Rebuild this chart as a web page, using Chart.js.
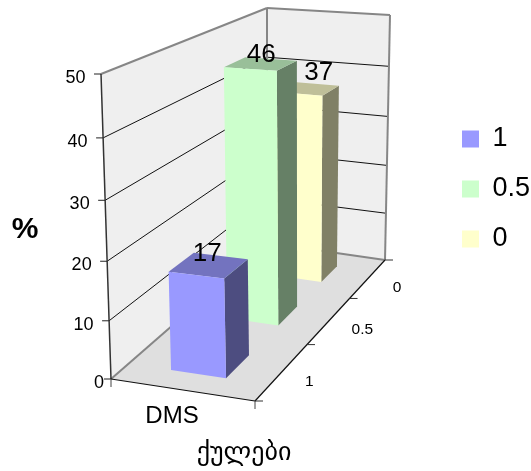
<!DOCTYPE html>
<html><head><meta charset="utf-8">
<style>html,body{margin:0;padding:0;background:#fff}canvas{display:block}</style>
<script src="https://cdn.jsdelivr.net/npm/chart.js@4/dist/chart.umd.js"></script>
</head><body><canvas id="c" width="531" height="471"></canvas>
<script>
const categories = ['DMS'];
const seriesNames = ['1', '0.5', '0'];
const values1 = [17];
const values05 = [46];
const values0 = [37];
const yTicks = [0, 10, 20, 30, 40, 50];
const xTitle = 'ქულები';
const yTitle = '%';

// box corners (screen) of the 3D plot
const A={x:111,y:379},B={x:101,y:74},C={x:267,y:8},D={x:267,y:243},E={x:390,y:15},F={x:385,y:260},G={x:255,y:401},H={x:250,y:84};
const font='"Liberation Sans", Arial, sans-serif';
const persp=(d,c)=>d/(d+(1-d)*c);
const lerp=(p,q,t)=>({x:p.x+(q.x-p.x)*t,y:p.y+(q.y-p.y)*t});
function P(u,vv,w){
  const wf=persp(w,0.75);
  const bot=lerp(lerp(A,G,u),lerp(D,F,u),wf);
  const top=lerp(lerp(B,H,u),lerp(C,E,u),wf);
  return lerp(bot,top,vv);
}
function poly(ctx,pts,fill,stroke,lw){
  ctx.beginPath();pts.forEach((p,i)=>i?ctx.lineTo(p.x,p.y):ctx.moveTo(p.x,p.y));ctx.closePath();
  if(fill){ctx.fillStyle=fill;ctx.fill();}
  if(stroke){ctx.strokeStyle=stroke;ctx.lineWidth=lw||1;ctx.stroke();}
}
function line(ctx,p,q,col,lw){ctx.beginPath();ctx.moveTo(p.x,p.y);ctx.lineTo(q.x,q.y);ctx.strokeStyle=col;ctx.lineWidth=lw;ctx.stroke();}
function hFrac(chart,val){const s=chart.scales.y;return (s.bottom-s.getPixelForValue(val))/(s.bottom-s.top);}

class PerspectiveScale extends Chart.LinearScale{
  static id='perspective';
  static defaults=Chart.LinearScale.defaults;
  getPixelForDecimal(d){return super.getPixelForDecimal(persp(d,1.06));}
  _computeLabelArea(){return undefined;}
  _computeLabelItems(area){
    const items=super._computeLabelItems(area);
    items.forEach((it,i)=>{
      const v=this.ticks[i].value;
      const pos=lerp(A,B,(this.bottom-this.getPixelForValue(v))/(this.bottom-this.top));
      it.options.textAlign='right';
      it.options.translation[0]= v===0 ? pos.x-7 : pos.x-15.5;
      it.options.translation[1]+=4;
    });
    return items;
  }
}
class Bar3DController extends Chart.BarController{
  static id='bar3d';
  static defaults=Chart.BarController.defaults;
  static overrides=Chart.BarController.overrides;
  draw(){
    const ctx=this.chart.ctx,k=this.index,ds=this.getDataset();
    const v=hFrac(this.chart,ds.data[0]);
    const u0=.30,u1=.69,wc=(k+.47)/3,w0=wc-.069,w1=wc+.069;
    ctx.save();
    poly(ctx,[P(u1,0,w0),P(u1,0,w1),P(u1,v,w1),P(u1,v,w0)],ds.sideColor);
    poly(ctx,[P(u0,v,w0),P(u1,v,w0),P(u1,v,w1),P(u0,v,w1)],ds.topColor);
    poly(ctx,[P(u0,0,w0),P(u1,0,w0),P(u1,v,w0),P(u0,v,w0)],ds.backgroundColor);
    ctx.restore();
  }
}
Chart.register(PerspectiveScale,Bar3DController);

const box3d={
  id:'box3d',
  afterLayout(chart){chart.legend.top=102.5;chart.legend.left=439;},
  beforeDatasetsDraw(chart){
    const ctx=chart.ctx;ctx.save();ctx.lineCap='butt';
    poly(ctx,[A,B,C,D],'#efefef');
    poly(ctx,[D,C,E,F],'#efefef');
    poly(ctx,[A,D,F,G],'#dfdfdf');
    yTicks.forEach(t=>{
      if(t===0||t===50)return;
      const v=hFrac(chart,t);
      const a=P(0,v,0),b=P(0,v,1),c=P(1,v,1);
      line(ctx,a,b,'#111',1);line(ctx,b,c,'#111',1);
    });
    line(ctx,B,C,'#868686',2);line(ctx,C,E,'#868686',2);line(ctx,C,D,'#868686',2);line(ctx,E,F,'#868686',2);
    line(ctx,A,D,'#868686',2);line(ctx,D,F,'#868686',2);
    line(ctx,A,B,'#333',1.5);line(ctx,A,G,'#111',1.2);line(ctx,G,F,'#111',1.2);
    yTicks.forEach(t=>{
      const v=hFrac(chart,t);const a=P(0,v,0);
      line(ctx,{x:a.x-7,y:a.y},a,'#222',1);
    });
    line(ctx,A,{x:A.x,y:A.y+8},'#444',1);line(ctx,G,{x:G.x,y:G.y+8},'#444',1);
    [0,1,2,3].forEach(i=>{const p=P(1,0,i/3);line(ctx,p,{x:p.x+8,y:p.y},'#333',1);});
    ctx.restore();
  },
  afterDatasetsDraw(chart){
    const ctx=chart.ctx;ctx.save();ctx.fillStyle='#000';ctx.textAlign='center';ctx.textBaseline='middle';
    chart.data.datasets.forEach((ds,k)=>{
      const v=hFrac(chart,ds.data[0]);
      const p=P(.49,v,(k+.47)/3);
      ctx.font='26px '+font;
      ctx.fillText(String(ds.data[0]),p.x+[-1,1,13][k],p.y+[-11,-9,-16][k]);
    });
    ctx.font='15.5px '+font;
    seriesNames.forEach((n,k)=>{
      const p=P(1,0,(k+.5)/3);
      ctx.fillText(n,p.x+[27,33,29][k],p.y+[10,9,9][k]);
    });
    ctx.font='24px '+font;
    ctx.fillText(categories[0],172,416);
    ctx.font='26px "DejaVu Sans", sans-serif';
    ctx.fillText(xTitle,244,453);
    ctx.font='bold 30px '+font;
    ctx.fillText(yTitle,25,230);
    ctx.restore();
  }
};

new Chart(document.getElementById('c'),{
  type:'bar3d',
  data:{labels:categories,datasets:[
    {label:seriesNames[0],data:values1,clip:false,backgroundColor:'#9999ff',sideColor:'#4d4d80',topColor:'#7373bf'},
    {label:seriesNames[1],data:values05,clip:false,backgroundColor:'#ccffcc',sideColor:'#668066',topColor:'#99bf99'},
    {label:seriesNames[2],data:values0,clip:false,backgroundColor:'#ffffcc',sideColor:'#808066',topColor:'#bfbf99'}
  ]},
  options:{
    responsive:false,animation:false,
    layout:{padding:{top:74,bottom:92,left:40,right:0}},
    scales:{
      x:{type:'category',display:false},
      y:{type:'perspective',min:0,max:50,afterBuildTicks(s){s.ticks=yTicks.map(v=>({value:v}));},
         grid:{display:false},border:{display:false},
         ticks:{stepSize:10,color:'#000',font:{family:font,size:18}}}
    },
    plugins:{
      tooltip:{enabled:false},
      legend:{position:'right',align:'start',
        labels:{boxWidth:17,boxHeight:17,padding:23,color:'#000',font:{family:font,size:27}}}
    }
  },
  plugins:[box3d]
});
</script></body></html>
